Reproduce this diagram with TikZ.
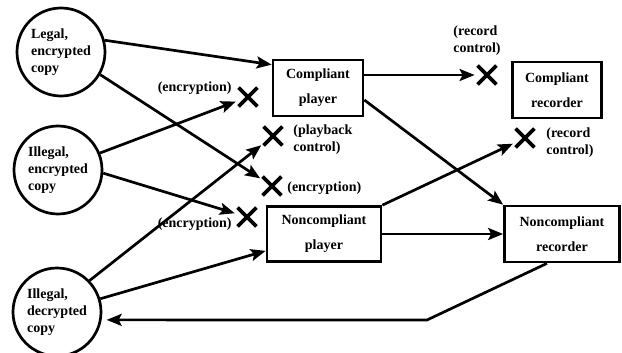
\documentclass[tikz,border=0pt]{standalone}
\usepackage{fontspec}
\setmainfont{Liberation Serif}
\usetikzlibrary{arrows.meta,shapes.misc}

\begin{document}
\begin{tikzpicture}[x=1pt,y=-1pt,line width=2.7pt,
 >={Stealth[length=15pt,width=12pt,inset=3pt]},
 every node/.style={font=\bfseries\fontsize{14}{17}\selectfont},
 copy/.style={draw,circle,minimum size=88pt,inner sep=0pt,align=left},
 unit/.style={draw,rectangle,align=center,font=\bfseries\fontsize{14}{25}\selectfont},
 block/.style={draw,cross out,minimum size=15pt,inner sep=0pt,line width=3.8pt},
 note/.style={align=left,inner sep=0pt},
 toblock/.style={->,shorten >=3pt}]
 \useasboundingbox (0,0) rectangle (622,353);
 \node[copy] (legal) at (61,52) {Legal,\\encrypted\\copy};
 \node[copy] (illegalenc) at (58,170) {Illegal,\\encrypted\\copy};
 \node[copy] (illegaldec) at (57,312) {Illegal,\\decrypted\\copy};
 \node[unit,minimum width=90pt,minimum height=56pt] (cplayer) at (318,88) {Compliant\\player};
 \node[unit,minimum width=114pt,minimum height=55pt] (ncplayer) at (324,234) {Noncompliant\\player};
 \node[unit,minimum width=89pt,minimum height=56pt] (crec) at (557,90) {Compliant\\recorder};
 \node[unit,minimum width=115pt,minimum height=56pt] (ncrec) at (562,234) {Noncompliant\\recorder};
 \node[block] (xa) at (248,97) {};
 \node[block] (xb) at (273,136) {};
 \node[block] (xc) at (272,186) {};
 \node[block] (xd) at (247,217) {};
 \node[block] (xe) at (487,75) {};
 \node[block] (xf) at (525,138) {};
 \node[note,anchor=east] (notea) at (233,88) {(encryption)};
 \node[note,anchor=west] (noteb) at (292,140) {(playback\\control)};
 \node[note,anchor=west] (notec) at (286,188) {(encryption)};
 \node[note,anchor=east] (noted) at (233,224) {(encryption)};
 \node[note] (notee) at (477,41) {(record\\control)};
 \node[note,anchor=west] (notef) at (545,143) {(record\\control)};
 \coordinate (turn) at (427,320);
 \draw [->] (legal.15) -- ([yshift=-6pt]cplayer.north west);
 \draw [toblock] (legal.-30) -- (xc);
 \draw [toblock] (illegalenc.22) -- (xa);
 \draw [toblock] (illegalenc.-4) -- (xd);
 \draw [toblock] (illegaldec.44) -- (xb);
 \draw [->] (illegaldec.17) -- ([yshift=12pt]ncplayer.south west);
 \draw [toblock] (cplayer.east |- xe) -- (xe);
 \draw [->] ([yshift=-12pt]cplayer.east) -- (ncrec.north west);
 \draw [toblock] (ncplayer.north east) -- (xf);
 \draw [->] (ncplayer.east) -- (ncrec.west);
 \draw [->,shorten >=5pt] ([xshift=-15pt]ncrec.south) -- (turn) -- (illegaldec.-10);
\end{tikzpicture}
\end{document}
